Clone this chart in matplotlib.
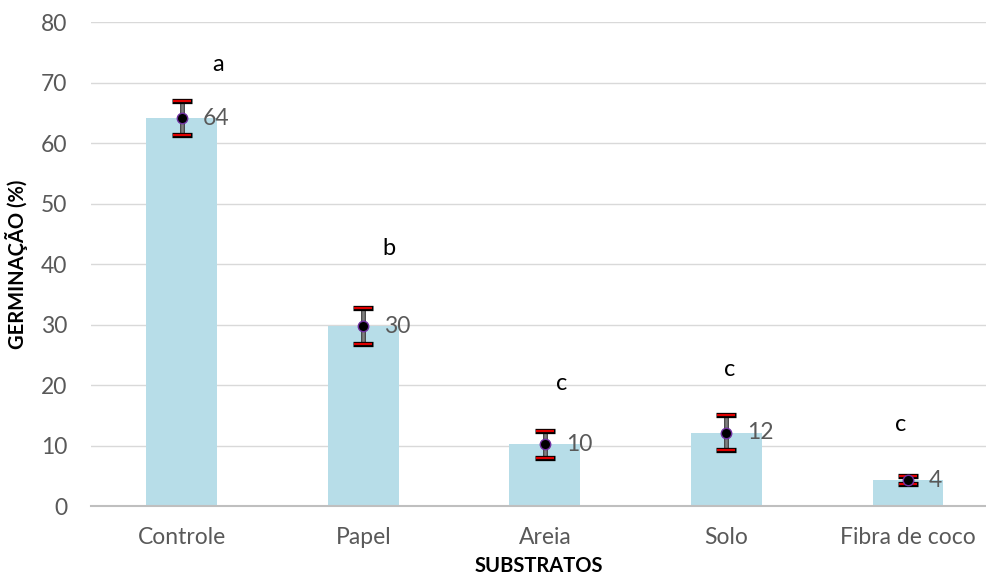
import matplotlib.pyplot as plt
import numpy as np

# data
categories = ["Controle", "Papel", "Areia", "Solo", "Fibra de coco"]
germination = [64.1, 29.7, 10.2, 12.1, 4.3]
errors = [2.8, 3.0, 2.2, 2.9, 0.7]
value_labels = ["64", "30", "10", "12", "4"]
letters = ["a", "b", "c", "c", "c"]
letter_y = [73, 42.6, 20.3, 22.5, 13.4]
letter_dx = [0.2, 0.14, 0.09, 0.02, -0.04]

plt.rcParams['font.family'] = ['Lato', 'DejaVu Sans']

fig = plt.figure(figsize=(9.86, 5.76), dpi=100)
ax = fig.add_axes([0.0923, 0.1215, 0.9077, 0.8403])

x = np.arange(len(categories))
ax.bar(x, germination, width=0.39, color="#b7dde8", zorder=2)

# error bars: grey stem, black-outlined red caps
ax.errorbar(x, germination, yerr=errors, fmt="none", ecolor="#404040",
            elinewidth=3.5, capsize=0, zorder=3)
ax.errorbar(x, germination, yerr=errors, fmt="none", ecolor="#7f7f7f",
            elinewidth=1.8, capsize=0, zorder=3)
ax.errorbar(x, germination, yerr=errors, fmt="none", ecolor="black",
            elinewidth=0, capsize=7.5, capthick=3.8, zorder=4)
ax.errorbar(x, germination, yerr=errors, fmt="none", ecolor="#e00000",
            elinewidth=0, capsize=6.3, capthick=1.6, zorder=5)
ax.plot(x, germination, "o", color="black", markeredgecolor="#7030a0",
        markersize=7.5, zorder=6)

for i, v in enumerate(germination):
    ax.text(x[i] + 0.115, v, value_labels[i], fontsize=16.5, color="#595959",
            va="center", ha="left", zorder=7)
    ax.text(x[i] + letter_dx[i], letter_y[i], letters[i], fontsize=17,
            color="black", ha="center", va="center")

ax.set_xlim(-0.5, 4.43)
ax.set_ylim(0, 80)
ax.set_yticks(range(0, 81, 10))
ax.set_xticks(x)
ax.set_xticklabels(categories)
ax.tick_params(axis="both", length=0, labelsize=16.5, labelcolor="#595959")
ax.tick_params(axis="y", pad=17)
ax.tick_params(axis="x", pad=15)
ax.yaxis.grid(True, color="#d9d9d9", linewidth=1, zorder=0)
ax.set_axisbelow(True)
for s in ["top", "right", "left"]:
    ax.spines[s].set_visible(False)
ax.spines["bottom"].set_color("#bfbfbf")
ax.spines["bottom"].set_linewidth(1.5)

ax.set_xlabel("SUBSTRATOS", fontsize=14.5, fontweight="bold", labelpad=6)
ax.set_ylabel("GERMINAÇÃO (%)", fontsize=14.5, fontweight="bold", labelpad=9)

fig.savefig("out.png", dpi=100)
